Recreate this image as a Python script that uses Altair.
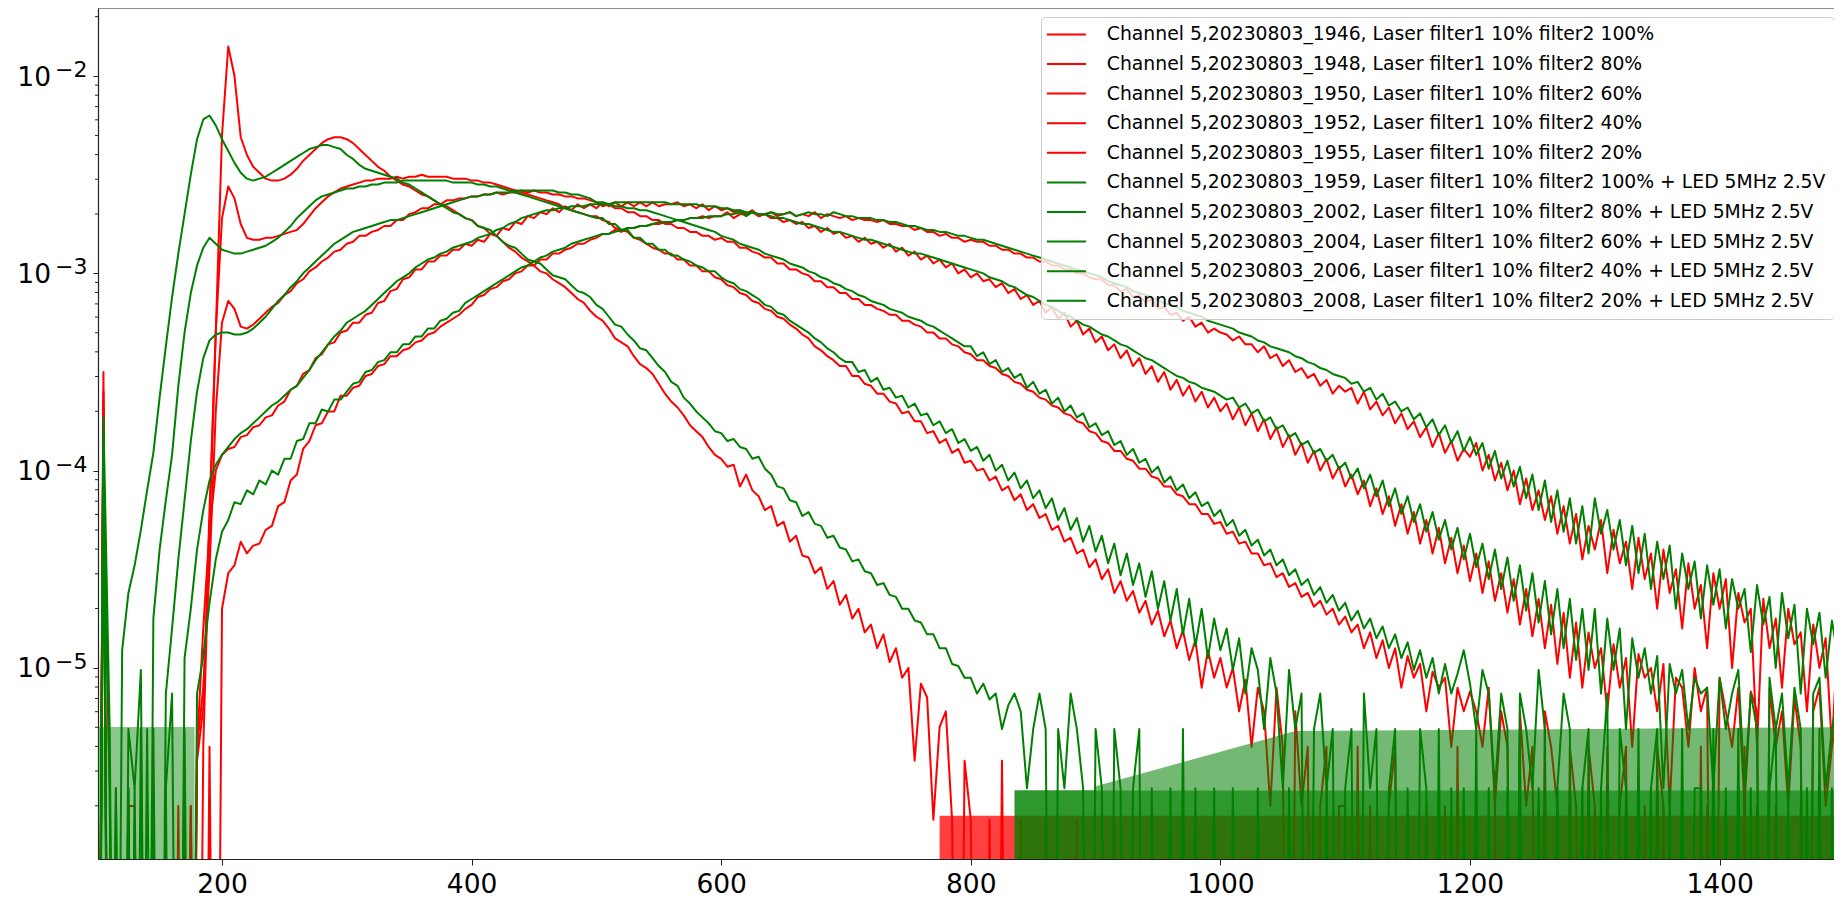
import altair as alt
import pandas as pd

# x positions: bins every 5 units starting at 100
X_START = 100
X_STEP = 5

LABELS = [
    "Channel 5,20230803_1946, Laser filter1 10% filter2 100%",
    "Channel 5,20230803_1948, Laser filter1 10% filter2 80%",
    "Channel 5,20230803_1950, Laser filter1 10% filter2 60%",
    "Channel 5,20230803_1952, Laser filter1 10% filter2 40%",
    "Channel 5,20230803_1955, Laser filter1 10% filter2 20%",
    "Channel 5,20230803_1959, Laser filter1 10% filter2 100% + LED 5MHz 2.5V",
    "Channel 5,20230803_2002, Laser filter1 10% filter2 80% + LED 5MHz 2.5V",
    "Channel 5,20230803_2004, Laser filter1 10% filter2 60% + LED 5MHz 2.5V",
    "Channel 5,20230803_2006, Laser filter1 10% filter2 40% + LED 5MHz 2.5V",
    "Channel 5,20230803_2008, Laser filter1 10% filter2 20% + LED 5MHz 2.5V",
]
COLORS = ["#ff0000", "#ff0000", "#ff0000", "#ff0000", "#ff0000",
          "#008000", "#008000", "#008000", "#008000", "#008000"]

R_A = [
    0, 350, 0, 0, 0, 0, 577, 0, 0, 0, 0, 0, 0, 0, 577, 0, 547, 520, 420, 330,
    230, 185, 200, 231, 240, 246, 249, 252, 253, 253, 252, 250, 247, 243, 240, 237, 234, 232, 231, 231,
    232, 234, 237, 240, 243, 246, 248, 251, 253, 255, 256, 258, 260, 261, 263, 265, 266, 268, 270, 272,
    273, 276, 277, 280, 281, 284, 287, 289, 292, 294, 296, 299, 300, 303, 305, 307, 310, 313, 315, 319,
    322, 324, 328, 333, 335, 337, 342, 346, 348, 351, 356, 361, 365, 368, 372, 377, 380, 383, 388, 392,
    394, 398, 397, 408, 402, 410, 413, 420, 418, 428, 426, 436, 433, 443, 444, 452, 449, 460, 456, 468,
    463, 475, 470, 482, 478, 490, 483, 497, 490, 505, 500, 547, 508, 515, 577, 530, 522, 577, 0, 547,
    577, 0, 0, 577, 0, 547, 0, 0, 577, 0, 0, 0, 577, 0, 0, 0, 0, 577, 0, 0,
    0, 0, 0, 577, 0, 0, 0, 0,
]
R_B = [
    0, 360, 0, 0, 0, 570, 570, 0, 0, 0, 0, 0, 0, 0, 0, 570, 0, 540, 430, 330,
    272, 256, 262, 275, 282, 283, 283, 282, 282, 281, 280, 279, 278, 275, 271, 267, 264, 261, 259, 257,
    256, 255, 254, 253, 253, 252, 252, 252, 251, 252, 251, 251, 250, 251, 251, 251, 251, 252, 252, 252,
    253, 253, 254, 254, 255, 256, 257, 258, 259, 260, 261, 262, 263, 264, 265, 267, 268, 269, 270, 271,
    271, 273, 274, 277, 278, 279, 282, 283, 285, 287, 288, 290, 290, 293, 293, 296, 296, 299, 299, 302,
    303, 306, 307, 310, 311, 314, 315, 318, 319, 322, 323, 326, 328, 331, 333, 337, 339, 342, 344, 347,
    347, 352, 352, 356, 357, 361, 361, 365, 366, 371, 370, 375, 375, 381, 380, 386, 384, 391, 389, 396,
    395, 400, 399, 405, 403, 410, 408, 415, 412, 420, 417, 424, 422, 430, 428, 436, 434, 442, 440, 449,
    445, 455, 450, 462, 456, 466, 461, 472, 466, 478, 471, 484, 476, 490, 481, 496, 486, 510, 491, 505,
    495, 510, 500, 522, 506, 540, 510, 522, 570, 510, 540, 0, 522, 570, 540, 0, 570, 540, 0, 570,
    570, 0, 540, 0, 570, 0, 0, 570, 540, 0, 570, 0, 0, 570, 0, 0, 570, 0, 540, 0,
    0, 570, 0, 0, 570, 0, 0, 0, 570, 0, 0, 570, 0, 0, 0, 0, 570, 0, 0, 0,
    570, 0, 0, 0, 0, 570, 0, 0, 0, 0, 0, 570, 0, 0, 0, 0, 0, 0, 570, 0,
]
R_C = [
    0, 365, 0, 0, 0, 570, 0, 0, 0, 0, 0, 0, 0, 570, 0, 0, 540, 510, 450, 370,
    325, 314, 318, 327, 328, 326, 323, 320, 317, 315, 311, 309, 305, 303, 299, 297, 294, 292, 289, 288,
    285, 284, 281, 281, 279, 278, 276, 276, 273, 273, 270, 269, 267, 267, 265, 265, 263, 263, 262, 262,
    261, 261, 260, 260, 259, 260, 259, 259, 258, 259, 258, 259, 259, 260, 260, 261, 261, 262, 262, 263,
    264, 266, 265, 267, 267, 269, 269, 271, 271, 273, 273, 275, 275, 277, 277, 279, 279, 281, 281, 283,
    282, 284, 284, 287, 287, 289, 290, 292, 292, 295, 295, 298, 298, 300, 301, 304, 304, 307, 307, 310,
    310, 313, 313, 316, 316, 318, 319, 321, 321, 324, 324, 326, 327, 330, 330, 333, 333, 336, 337, 340,
    341, 344, 344, 347, 348, 351, 352, 355, 356, 359, 360, 363, 364, 367, 368, 371, 372, 375, 376, 380,
    381, 385, 386, 390, 390, 394, 395, 399, 399, 403, 404, 408, 408, 412, 413, 417, 417, 422, 422, 427,
    426, 432, 431, 437, 436, 442, 442, 448, 447, 454, 452, 459, 457, 464, 462, 469, 466, 473, 470, 478,
    474, 482, 478, 490, 482, 495, 486, 500, 490, 510, 494, 505, 498, 522, 502, 510, 505, 540, 510, 522,
    512, 522, 540, 510, 570, 522, 540, 0, 522, 570, 540, 0, 522, 540, 570, 0, 540, 570, 0, 540,
    570, 0, 540, 0, 570, 540, 0, 0, 570, 0, 540, 570, 0, 0, 570, 0, 0, 540, 0, 570,
    0, 570, 0, 0, 540, 0, 570, 0, 0, 570, 0, 0, 0, 570, 0, 0, 570, 0, 0, 0,
]
R_D = [
    0, 370, 0, 0, 0, 0, 0, 0, 0, 0, 0, 0, 0, 0, 570, 0, 540, 480, 430, 400,
    392, 389, 388, 383, 382, 378, 377, 373, 372, 367, 365, 359, 357, 351, 349, 343, 341, 336, 335, 330,
    329, 325, 325, 321, 320, 315, 314, 309, 308, 303, 302, 298, 298, 294, 294, 291, 291, 288, 288, 285,
    286, 283, 284, 280, 281, 277, 278, 274, 275, 271, 272, 269, 270, 267, 269, 266, 268, 265, 267, 265,
    267, 264, 266, 264, 266, 264, 266, 264, 266, 264, 266, 265, 265, 264, 266, 265, 267, 265, 268, 266,
    268, 267, 269, 268, 270, 269, 271, 270, 272, 272, 274, 273, 275, 274, 277, 276, 279, 277, 280, 279,
    282, 281, 284, 282, 285, 284, 287, 285, 289, 287, 291, 289, 293, 291, 295, 293, 297, 295, 300, 298,
    302, 300, 304, 303, 307, 305, 310, 308, 313, 311, 316, 314, 320, 317, 323, 320, 327, 324, 331, 328,
    335, 332, 339, 336, 343, 339, 347, 343, 351, 347, 355, 350, 359, 354, 362, 357, 365, 360, 368, 363,
    370, 366, 374, 368, 377, 371, 380, 374, 384, 378, 388, 382, 392, 386, 396, 390, 400, 394, 404, 398,
    408, 402, 412, 405, 418, 409, 422, 413, 428, 417, 432, 421, 437, 425, 442, 429, 447, 434, 452, 438,
    456, 442, 462, 446, 466, 452, 472, 455, 478, 460, 484, 465, 490, 468, 498, 472, 505, 477, 510, 482,
    500, 490, 522, 488, 510, 495, 540, 493, 505, 500, 522, 498, 570, 505, 510, 540, 500, 522, 510, 0,
    505, 522, 540, 510, 570, 512, 522, 0, 510, 540, 522, 570, 515, 540, 0, 522, 510, 570, 540, 522,
    540,
]
R_E = [
    0, 372, 0, 0, 0, 0, 0, 0, 0, 0, 0, 0, 0, 0, 0, 570, 0, 0, 540, 0,
    470, 452, 448, 436, 442, 438, 437, 430, 428, 418, 416, 405, 402, 389, 385, 377, 376, 370, 370, 362,
    362, 358, 357, 352, 351, 347, 346, 342, 342, 339, 338, 335, 334, 331, 330, 327, 325, 323, 321, 318,
    316, 312, 311, 308, 307, 304, 303, 300, 299, 296, 296, 293, 293, 290, 290, 288, 287, 285, 285, 283,
    282, 280, 280, 278, 279, 277, 277, 276, 276, 275, 275, 274, 274, 273, 273, 272, 272, 271, 272, 271,
    271, 269, 272, 270, 270, 268, 271, 270, 269, 271, 270, 269, 271, 270, 271, 269, 272, 270, 271, 272,
    271, 273, 272, 273, 273, 274, 273, 275, 275, 276, 276, 278, 277, 279, 279, 281, 280, 282, 282, 284,
    283, 284, 284, 286, 286, 288, 288, 290, 290, 292, 292, 294, 294, 296, 296, 298, 298, 300, 300, 302,
    303, 303, 306, 306, 309, 308, 312, 311, 315, 313, 318, 317, 321, 320, 324, 322, 327, 325, 330, 328,
    330, 331, 334, 332, 336, 336, 340, 337, 343, 341, 347, 344, 350, 348, 353, 351, 357, 354, 361, 357,
    360, 358, 366, 360, 369, 365, 372, 368, 376, 371, 379, 375, 383, 378, 388, 381, 391, 385, 395, 389,
    393, 386, 400, 392, 405, 396, 410, 400, 417, 404, 420, 410, 425, 413, 432, 418, 437, 422, 445, 428,
    440, 425, 452, 430, 447, 436, 460, 434, 455, 442, 470, 440, 462, 450, 480, 447, 470, 458, 490, 452,
    470, 455, 500, 462, 477, 470, 540, 465, 490, 475, 510, 470, 488, 482, 522, 478, 500, 485, 540, 480,
    495,
]
G_A = [
    0, 373, 531, 0, 491, 462, 448, 430, 410, 391, 363, 337, 312, 290, 270, 250, 232, 222, 220, 225,
    232, 238, 244, 249, 252, 253, 252, 251, 249, 247, 245, 243, 241, 239, 237, 236, 235, 235, 236, 237,
    240, 242, 245, 247, 248, 249, 250, 251, 252, 254, 255, 257, 259, 261, 263, 265, 267, 269, 270, 272,
    273, 276, 277, 278, 281, 284, 286, 287, 290, 293, 294, 295, 298, 301, 302, 303, 306, 309, 310, 312,
    316, 318, 322, 326, 327, 331, 334, 338, 339, 343, 347, 350, 355, 357, 363, 366, 370, 373, 376, 380,
    381, 385, 384, 388, 389, 394, 393, 399, 402, 408, 409, 415, 416, 423, 421, 427, 428, 434, 433, 439,
    440, 446, 445, 451, 452, 458, 457, 463, 464, 470, 470, 476, 477, 483, 483, 490, 490, 498, 499, 505,
    505, 513, 508, 516, 513, 531, 519, 513, 522, 561, 531, 513, 531, 0, 531, 561, 513, 531, 561, 0,
    531, 561, 0, 531, 561, 0, 561, 531, 0, 561, 0, 0, 561, 0, 531, 0, 561, 0, 0, 561,
    0, 0, 561, 0, 0, 0, 561, 0, 0, 0, 0, 561, 0, 0, 0, 0, 0, 561, 0, 0,
]
G_B = [
    0, 380, 0, 561, 0, 531, 561, 501, 0, 475, 440, 415, 392, 357, 330, 310, 296, 287, 282, 285,
    288, 289, 290, 290, 289, 288, 287, 286, 284, 282, 279, 276, 272, 269, 266, 263, 261, 260, 259, 258,
    257, 257, 256, 256, 255, 255, 254, 254, 254, 253, 253, 253, 253, 253, 253, 253, 253, 254, 254, 254,
    254, 255, 255, 256, 256, 257, 258, 259, 260, 261, 262, 263, 264, 265, 266, 267, 268, 269, 270, 271,
    272, 272, 275, 275, 278, 278, 282, 282, 285, 285, 288, 288, 291, 291, 293, 294, 296, 297, 299, 299,
    302, 304, 305, 308, 309, 311, 313, 316, 317, 320, 321, 324, 326, 328, 330, 333, 335, 338, 340, 343,
    345, 345, 350, 349, 355, 353, 359, 358, 363, 362, 368, 366, 372, 371, 377, 375, 381, 379, 386, 384,
    390, 388, 395, 392, 400, 397, 405, 401, 409, 405, 414, 410, 419, 414, 425, 419, 430, 424, 436, 428,
    441, 433, 447, 437, 453, 442, 458, 447, 464, 451, 470, 456, 476, 460, 483, 465, 489, 470, 495, 475,
    491, 480, 501, 485, 513, 490, 501, 531, 495, 513, 561, 501, 531, 513, 0, 531, 513, 561, 531, 0,
    561, 531, 0, 513, 561, 531, 0, 561, 531, 0, 561, 0, 531, 561, 0, 531, 0, 561, 0, 561,
    0, 531, 0, 561, 0, 0, 561, 0, 531, 0, 0, 561, 0, 0, 561, 0, 0, 0, 561, 0,
    0, 561, 0, 0, 0, 561, 0, 0, 0, 561, 0, 0, 0, 0, 561, 0, 0, 0, 0, 561,
]
G_C = [
    0, 390, 561, 0, 0, 561, 0, 531, 0, 561, 0, 513, 480, 445, 415, 385, 360, 343, 334, 331,
    330, 330, 331, 331, 330, 328, 325, 322, 318, 314, 311, 307, 304, 300, 297, 294, 291, 288, 285, 283,
    281, 279, 278, 277, 276, 275, 274, 273, 273, 272, 271, 270, 269, 268, 267, 266, 265, 264, 263, 262,
    261, 261, 260, 260, 259, 259, 259, 258, 258, 258, 258, 258, 258, 258, 259, 259, 260, 260, 261, 262,
    264, 264, 265, 266, 266, 267, 267, 268, 268, 269, 270, 271, 272, 273, 274, 275, 276, 277, 278, 279,
    281, 282, 283, 285, 286, 287, 288, 290, 291, 292, 293, 295, 296, 297, 299, 300, 302, 303, 305, 306,
    308, 309, 311, 312, 314, 315, 316, 318, 319, 320, 322, 323, 324, 326, 327, 329, 331, 333, 335, 337,
    337, 342, 340, 346, 344, 350, 348, 353, 351, 358, 355, 361, 359, 366, 363, 370, 367, 373, 371, 378,
    376, 382, 380, 387, 385, 392, 389, 396, 394, 401, 398, 406, 403, 410, 407, 414, 411, 418, 416, 423,
    420, 428, 425, 433, 430, 438, 435, 443, 440, 448, 445, 453, 450, 458, 455, 463, 459, 467, 463, 471,
    467, 476, 471, 480, 475, 485, 479, 490, 483, 495, 487, 501, 491, 505, 495, 513, 498, 513, 503, 491,
    508, 531, 501, 513, 561, 513, 531, 0, 513, 531, 561, 501, 531, 0, 561, 513, 531, 0, 561, 531,
    0, 561, 513, 0, 531, 561, 0, 531, 0, 561, 531, 0, 561, 0, 531, 0, 561, 561, 0, 531,
    0, 561, 0, 531, 0, 561, 0, 0, 561, 531, 0, 561, 0, 0, 561, 0, 531, 0, 561, 0,
]
G_D = [
    0, 400, 0, 561, 0, 0, 561, 0, 0, 531, 0, 561, 513, 0, 495, 470, 440, 420, 405, 397,
    392, 388, 384, 381, 379, 376, 373, 370, 367, 365, 362, 359, 357, 353, 349, 344, 340, 336, 332, 329,
    325, 323, 321, 319, 316, 313, 310, 307, 304, 302, 300, 297, 295, 293, 292, 290, 289, 287, 286, 285,
    284, 282, 281, 280, 278, 277, 275, 274, 272, 271, 270, 269, 268, 268, 267, 267, 266, 266, 266, 265,
    265, 265, 265, 264, 264, 264, 264, 264, 264, 264, 264, 264, 265, 265, 265, 265, 265, 266, 266, 266,
    267, 267, 268, 268, 269, 269, 270, 270, 271, 272, 272, 273, 274, 275, 275, 276, 277, 278, 279, 279,
    280, 281, 282, 283, 283, 284, 285, 286, 287, 288, 289, 290, 290, 291, 292, 293, 294, 295, 296, 297,
    298, 299, 300, 302, 303, 304, 306, 307, 309, 311, 312, 314, 316, 317, 319, 321, 322, 324, 326, 327,
    329, 331, 332, 334, 336, 337, 339, 341, 343, 344, 346, 348, 350, 352, 353, 355, 356, 358, 359, 360,
    362, 364, 363, 368, 366, 371, 369, 375, 373, 379, 377, 383, 381, 387, 385, 391, 389, 395, 392, 399,
    396, 404, 399, 409, 402, 413, 405, 418, 409, 422, 413, 426, 417, 431, 421, 435, 425, 440, 429, 445,
    432, 449, 437, 455, 440, 460, 444, 466, 448, 471, 452, 477, 456, 483, 460, 490, 465, 496, 470, 501,
    470, 513, 475, 501, 480, 531, 485, 505, 490, 513, 494, 561, 498, 513, 501, 531, 505, 513, 510, 561,
    505, 531, 513, 501, 561, 513, 531, 0, 505, 531, 513, 561, 510, 531, 0, 513, 505, 561, 531, 513,
    531,
]
G_E = [
    0, 410, 561, 0, 0, 561, 0, 0, 531, 0, 0, 561, 0, 0, 531, 0, 513, 494, 467, 445,
    431, 425, 416, 417, 410, 412, 405, 407, 400, 402, 394, 394, 385, 384, 376, 376, 369, 370, 364, 364,
    360, 356, 355, 350, 349, 345, 344, 340, 340, 336, 336, 332, 332, 328, 328, 324, 323, 320, 319, 315,
    313, 311, 309, 307, 305, 303, 301, 299, 297, 296, 294, 292, 291, 289, 288, 287, 285, 284, 283, 282,
    281, 280, 280, 279, 278, 277, 277, 276, 276, 275, 274, 274, 274, 273, 273, 272, 272, 272, 271, 271,
    271, 270, 270, 269, 271, 269, 270, 270, 269, 270, 270, 269, 271, 270, 269, 270, 270, 271, 269, 270,
    271, 271, 272, 272, 272, 273, 273, 274, 274, 275, 276, 276, 277, 278, 278, 279, 279, 280, 281, 281,
    282, 283, 283, 284, 285, 286, 287, 288, 289, 290, 291, 292, 293, 294, 295, 296, 297, 298, 299, 300,
    301, 302, 304, 305, 306, 307, 309, 310, 311, 312, 314, 315, 316, 317, 319, 320, 321, 322, 324, 325,
    326, 327, 328, 330, 331, 332, 334, 335, 337, 338, 339, 340, 342, 343, 345, 346, 348, 349, 351, 352,
    353, 356, 355, 360, 358, 364, 361, 367, 365, 370, 368, 374, 371, 378, 374, 382, 377, 386, 380, 390,
    383, 392, 386, 399, 390, 404, 395, 408, 398, 414, 402, 420, 405, 426, 410, 431, 414, 437, 418, 442,
    414, 432, 420, 440, 425, 448, 428, 452, 432, 460, 436, 455, 438, 470, 442, 460, 446, 475, 448, 468,
    450, 480, 455, 470, 460, 492, 458, 478, 464, 500, 462, 485, 468, 513, 470, 488, 472, 505, 476, 495,
    478,
]

SERIES = [R_A, R_B, R_C, R_D, R_E, G_A, G_B, G_C, G_D, G_E]

# Dense noise floor (lines hitting empty bins so often that the region reads as filled):
# x extent and upper edge (same -100*log10 code).
RED_FLOOR_X = [775, 1500]
RED_FLOOR_TOP = [575, 575]
GREEN_FLOOR_X = [835, 1500]
GREEN_FLOOR_TOP = [562, 562]
GREEN_HAZE_X = [900, 1060, 1500]
GREEN_HAZE_TOP = [560, 532, 530]
GREEN_HAZE_BOTTOM = [562, 562, 562]
LEFT_HAZE_X = [101, 178]
LEFT_HAZE_TOP = [530, 530]

X_TICKS = [200, 400, 600, 800, 1000, 1200, 1400]
Y_MAJOR = [1e-5, 1e-4, 1e-3, 1e-2]
Y_LABEL_BASE = ["10", "10", "10", "10"]
Y_LABEL_EXP = ["−5", "−4", "−3", "−2"]
Y_MINOR = [2e-6, 3e-6, 4e-6, 5e-6, 6e-6, 7e-6, 8e-6, 9e-6,
           2e-5, 3e-5, 4e-5, 5e-5, 6e-5, 7e-5, 8e-5, 9e-5,
           2e-4, 3e-4, 4e-4, 5e-4, 6e-4, 7e-4, 8e-4, 9e-4,
           2e-3, 3e-3, 4e-3, 5e-3, 6e-3, 7e-3, 8e-3, 9e-3,
           2e-2]
X_DOMAIN = [100.64, 1491.67]
Y_DOMAIN = [10 ** -5.9686, 10 ** -1.655]
FLOOR = 1e-9


def code_to_y(c):
    return 10 ** (-c / 100.0) if c > 0 else FLOOR


rows_laser, rows_led = [], []
for label, col, codes in zip(LABELS, COLORS, SERIES):
    target = rows_laser if col == "#ff0000" else rows_led
    for i, c in enumerate(codes):
        target.append({"x": X_START + X_STEP * i, "y": code_to_y(c), "series": label})
df_laser = pd.DataFrame(rows_laser)
df_led = pd.DataFrame(rows_led)


def band_df(xs, tops, bottoms=None):
    return pd.DataFrame({
        "x": xs,
        "y": [code_to_y(t) for t in tops],
        "y2": [code_to_y(b) for b in bottoms] if bottoms else [FLOOR] * len(xs),
    })


xscale = alt.Scale(domain=X_DOMAIN, nice=False, zero=False)
yscale = alt.Scale(type="log", domain=Y_DOMAIN, nice=False)

x_axis = alt.Axis(values=X_TICKS, format="d", title=None, grid=False,
                  labelFontSize=26.5, labelColor="black", tickSize=6,
                  tickColor="#222", domainColor="#222", domainWidth=1.2,
                  labelPadding=6.5, labelFlush=False)
y_axis = alt.Axis(values=Y_MAJOR, labels=False, title=None, grid=False, tickSize=5,
                  tickColor="#222", domainColor="#222", domainWidth=1.2)
x_enc = alt.X("x:Q", scale=xscale, axis=x_axis)
y_enc = alt.Y("y:Q", scale=yscale, axis=y_axis)

legend = alt.Legend(
    title=None, orient="none", legendX=943, legendY=9,
    symbolType="M-2.76,0H2.76", symbolSize=200, symbolStrokeWidth=2, symbolOffset=8,
    labelFontSize=18.8, labelColor="black", labelLimit=900, labelOffset=31,
    rowPadding=9.6, padding=8,
    fillColor="rgba(255,255,255,0.8)", strokeColor="#cccccc", cornerRadius=4,
)
color_enc = alt.Color("series:N", scale=alt.Scale(domain=LABELS, range=COLORS), legend=legend)


def band(df, color, opacity):
    return alt.Chart(df).mark_area(color=color, opacity=opacity, clip=True).encode(
        x=x_enc, y=y_enc, y2="y2:Q",
    )


red_floor = band(band_df(RED_FLOOR_X, RED_FLOOR_TOP), "#ff0000", 0.75)
green_floor = band(band_df(GREEN_FLOOR_X, GREEN_FLOOR_TOP), "#008000", 0.82)
green_haze = band(band_df(GREEN_HAZE_X, GREEN_HAZE_TOP, GREEN_HAZE_BOTTOM), "#008000", 0.55)
left_haze = band(band_df(LEFT_HAZE_X, LEFT_HAZE_TOP), "#008000", 0.45)

laser = alt.Chart(df_laser).mark_line(strokeWidth=2, clip=True, strokeJoin="round").encode(
    x=x_enc, y=y_enc, color=color_enc)
led = alt.Chart(df_led).mark_line(strokeWidth=2, clip=True, strokeJoin="round").encode(
    x=x_enc, y=y_enc, color=color_enc)
frame = alt.Chart(pd.DataFrame({"f": [0]})).mark_rule(color="#222", strokeWidth=1.2).encode(
    y=alt.value(0))
minor_ticks = alt.Chart(pd.DataFrame({"y": Y_MINOR})).mark_rule(color="#222", strokeWidth=1).encode(
    y=y_enc, x=alt.value(-3), x2=alt.value(0))

ylab_df = pd.DataFrame({"y": Y_MAJOR, "base": Y_LABEL_BASE, "exp": Y_LABEL_EXP})
ylab_base = alt.Chart(ylab_df).mark_text(
    align="right", baseline="middle", fontSize=26.5, font="DejaVu Sans", color="black", dy=1.5
).encode(y=y_enc, x=alt.value(-47), text="base:N")
ylab_exp = alt.Chart(ylab_df).mark_text(
    align="left", baseline="middle", fontSize=22, font="DejaVu Sans", color="black", dy=-6
).encode(y=y_enc, x=alt.value(-43), text="exp:N")

chart = (
    alt.layer(red_floor, laser, left_haze, green_haze, green_floor, led, frame, minor_ticks,
              ylab_base, ylab_exp)
    .properties(width=1736, height=851,
                autosize=alt.AutoSizeParams(type="none"),
                padding={"left": 90, "top": 0, "right": 0, "bottom": 41},
                background="white")
    .configure_view(strokeWidth=0)
    .configure_axis(labelFont="DejaVu Sans")
    .configure_legend(labelFont="DejaVu Sans")
)

chart.save("out.html", embed_options={"renderer": "svg", "actions": False})
